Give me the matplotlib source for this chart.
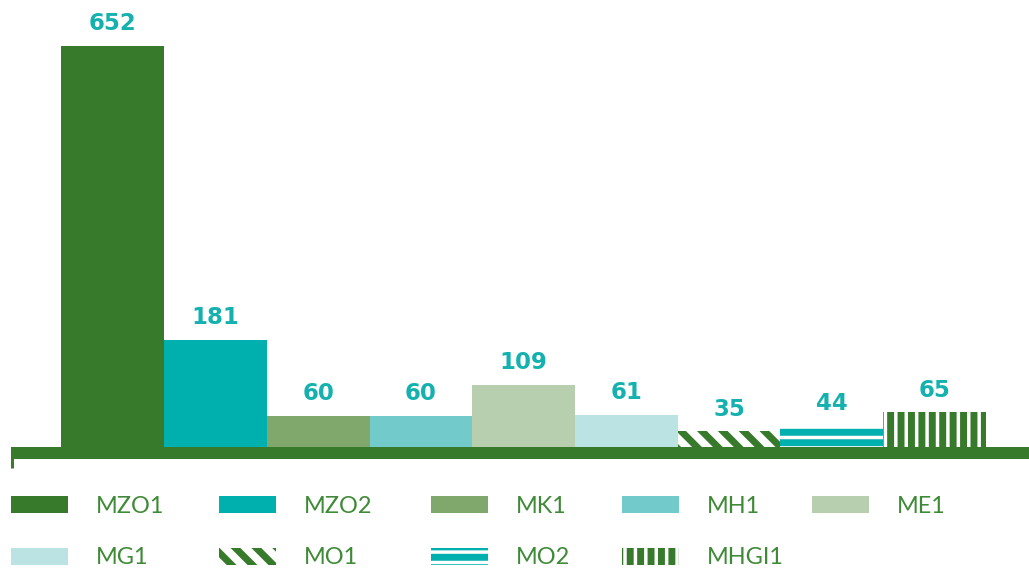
import matplotlib
matplotlib.use("Agg")
import matplotlib.pyplot as plt

categories = ["MZO1", "MZO2", "MK1", "MH1", "ME1", "MG1", "MO1", "MO2", "MHGI1"]
values = [652, 181, 60, 60, 109, 61, 35, 44, 65]

GREEN = "#387A2B"
CYAN = "#00B0AE"
faces = ["#387A2B", "#00B0AE", "#80A76C", "#73CACA", "#B8CFAF", "#BBE3E3", "white", "white", "white"]
edges = [None, None, None, None, None, None, GREEN, CYAN, GREEN]
hatches = [None, None, None, None, None, None, "\\\\", "--", "||"]

DPI = 125
W, H = 1029, 568
plt.rcParams["hatch.linewidth"] = 4.0
fig = plt.figure(figsize=(W / DPI, H / DPI), dpi=DPI)

ppu = (453 - 46) / 652.0
ytop = 660
ax_h = ytop * ppu
ax = fig.add_axes([11 / W, 115 / H, 1018 / W, ax_h / H])

bars = []
for i, (c, v) in enumerate(zip(categories, values)):
    kw = dict(color=faces[i], width=1.0, linewidth=0, label=c, zorder=2)
    if hatches[i]:
        kw.update(edgecolor=edges[i], hatch=hatches[i])
    b = ax.bar(i, v, **kw)
    bars.append(b)
    ax.annotate(str(v), (i, v), xytext=(0, 9), textcoords="offset points",
                ha="center", va="baseline", color="#14B1AE", fontsize=13.2,
                fontfamily="DejaVu Sans", fontweight="bold")

xl = -0.99
ax.set_xlim(xl, 8.92)
ax.set_ylim(0, ytop)
for s in ["top", "right", "left"]:
    ax.spines[s].set_visible(False)
ax.spines["bottom"].set_color(GREEN)
ax.spines["bottom"].set_linewidth(12 * 72 / DPI)
ax.spines["bottom"].set_zorder(3)
ax.spines["bottom"].set_capstyle("butt")
ax.set_yticks([])
ax.set_xticks([xl + 0.01])
ax.set_xticklabels([""])
ax.tick_params(axis="x", direction="out", length=8.5, width=1.7, color=GREEN)

# legend: 5 columns, row-major, each column as its own legend for exact spacing
ncol = 5
col_x = [11, 219, 431, 622, 812]
fs = 13.5
fpx = fs * DPI / 72
for c in range(ncol):
    idx = [k for k in (c, c + ncol) if k < len(categories)]
    leg = fig.legend(handles=[bars[k] for k in idx], labels=[categories[k] for k in idx],
                     ncol=1, loc="upper left", bbox_to_anchor=(col_x[c] / W, 1 - 496 / H),
                     frameon=False, borderpad=0, borderaxespad=0,
                     handlelength=57 / fpx, handleheight=17 / fpx,
                     handletextpad=28 / fpx, labelspacing=1.3,
                     prop=dict(family="Lato", weight="normal", size=fs))
    for t in leg.get_texts():
        t.set_color("#3F8A37")

fig.savefig("out.png", dpi=DPI)
